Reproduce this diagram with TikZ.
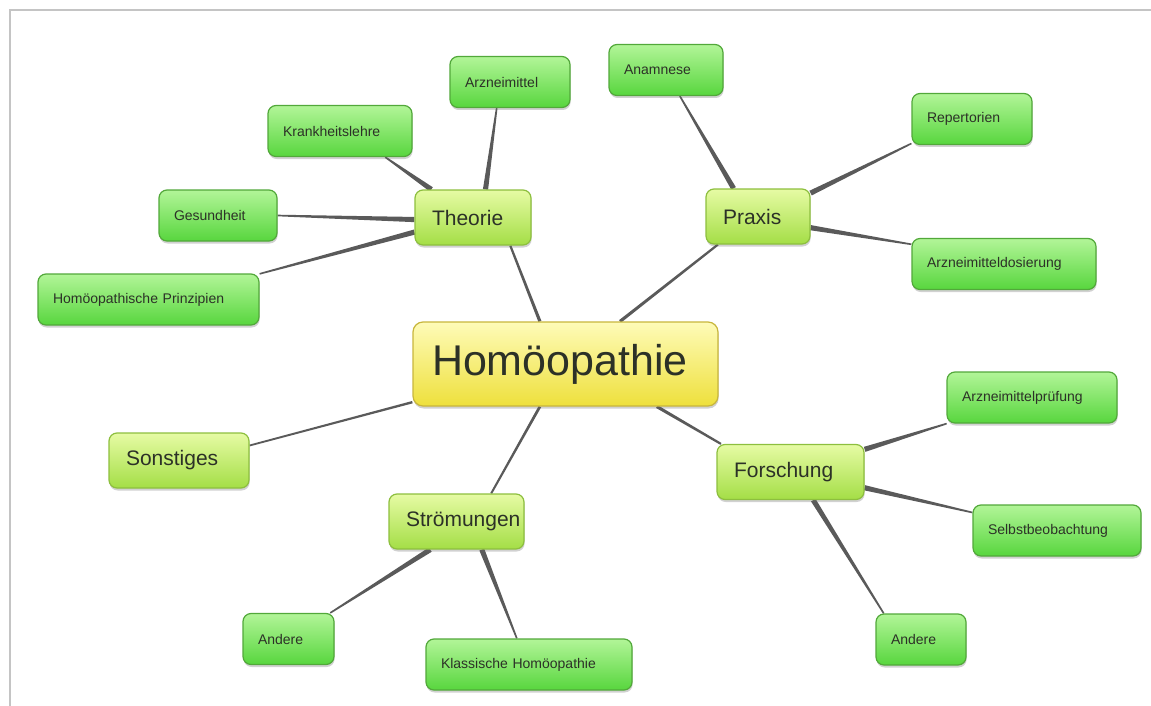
\documentclass[tikz,border=0pt]{standalone}
\usepackage{fontspec}
\setmainfont{Liberation Sans}
\usetikzlibrary{calc,shadows,backgrounds}

\definecolor{leaftop}{HTML}{B2F598}
\definecolor{leafbot}{HTML}{58D63E}
\definecolor{leafline}{HTML}{52A83A}
\definecolor{midtop}{HTML}{E6FBA4}
\definecolor{midbot}{HTML}{A4DE46}
\definecolor{midline}{HTML}{8DBF3E}
\definecolor{roottop}{HTML}{FEFBB8}
\definecolor{rootbot}{HTML}{EEE03C}
\definecolor{rootline}{HTML}{C8B63C}
\definecolor{linkgray}{HTML}{5A5A5A}
\definecolor{framegray}{HTML}{C4C4C4}
\definecolor{textgray}{HTML}{2C3127}

\tikzset{
  box/.style={rounded corners=8pt, draw, line width=1.2pt, text=textgray, align=left,
    drop shadow={shadow xshift=0.6pt, shadow yshift=-2.5pt, opacity=0.3, fill=black!60}},
  leaf/.style={box, draw=leafline, top color=leaftop, bottom color=leafbot,
    font=\fontsize{14}{16}\selectfont, text width=#1, inner xsep=15pt, minimum height=51pt},
  topic/.style={box, draw=midline, top color=midtop, bottom color=midbot,
    font=\fontsize{21}{24}\selectfont, text width=#1, inner xsep=17pt, minimum height=55pt},
  root/.style={box, rounded corners=10pt, draw=rootline, top color=roottop, bottom color=rootbot,
    font=\fontsize{43}{48}\selectfont, text width=#1, inner xsep=19pt, minimum height=84pt},
}

% tapered link: from anchor, to anchor, half width at start, half width at end
\newcommand{\branch}[4]{%
  \fill[linkgray] ($(#1)!#3!90:(#2)$) -- ($(#1)!#3!-90:(#2)$) -- ($(#2)!#4!90:(#1)$) -- ($(#2)!#4!-90:(#1)$) -- cycle;}

\begin{document}
\begin{tikzpicture}[x=1pt,y=-1pt]
	\useasboundingbox (0,0) rectangle (1151,706);
	
	%frame
	\draw[framegray, line width=1.5pt] (10,706) -- (10,10) -- (1151,10);
	
	% centre and topics
	\node[root=267pt] (homoo) at (565.5,364) {Homöopathie};
	\node[topic=82pt] (theorie) at (473,217.5) {Theorie};
	\node[topic=70pt] (praxis) at (758,216.5) {Praxis};
	\node[topic=113pt] (forschung) at (790.5,472) {Forschung};
	\node[topic=101pt] (stroemungen) at (456.5,521.5) {Strömungen};
	\node[topic=106pt] (sonstiges) at (179,460.5) {Sonstiges};
	
	% Theorie
	\node[leaf=90pt] (arznei) at (510,82) {Arzneimittel};
	\node[leaf=114pt] (krankheit) at (340,131) {Krankheitslehre};
	\node[leaf=88pt] (gesundheit) at (218,215.5) {Gesundheit};
	\node[leaf=191pt] (prinzipien) at (148.5,299.5) {Homöopathische Prinzipien};
	
	% Praxis
	\node[leaf=84pt] (anamnese) at (666,70) {Anamnese};
	\node[leaf=90pt] (repertorien) at (972,119) {Repertorien};
	\node[leaf=154pt] (dosierung) at (1004,264) {Arzneimitteldosierung};
	
	% Forschung
	\node[leaf=140pt] (pruefung) at (1032,397.5) {Arzneimittelprüfung};
	\node[leaf=138pt] (selbst) at (1057,530.5) {Selbstbeobachtung};
	\node[leaf=60pt] (andereF) at (921,639.5) {Andere};
	
	% Strömungen
	\node[leaf=61pt] (andereS) at (288.5,639) {Andere};
	\node[leaf=176pt] (klassisch) at (529,664.5) {Klassische Homöopathie};
	
	\begin{scope}[on background layer]
		\branch{homoo.121}{theorie.-37}{1.6pt}{1.1pt}
		\branch{homoo.38}{praxis.-145}{1.6pt}{1.1pt}
		\branch{homoo.-25}{forschung.158}{1.6pt}{1.1pt}
		\branch{homoo.-121}{stroemungen.39}{1.4pt}{1pt}
		\branch{homoo.-166}{sonstiges.12}{1.2pt}{0.9pt}
		
		\branch{theorie.66}{arznei.-117}{2.6pt}{0.8pt}
		\branch{theorie.146}{krankheit.-30}{2.6pt}{0.8pt}
		\branch{theorie.-178}{gesundheit.0}{2.6pt}{0.8pt}
		\branch{theorie.-166}{prinzipien.13}{2.6pt}{0.8pt}
		
		\branch{praxis.131}{anamnese.-62}{2.6pt}{0.8pt}
		\branch{praxis.24}{repertorien.-158}{2.6pt}{0.8pt}
		\branch{praxis.-12}{dosierung.168}{2.6pt}{0.8pt}
		
		\branch{forschung.17}{pruefung.-163}{2.6pt}{0.8pt}
		\branch{forschung.-12}{selbst.168}{2.6pt}{0.8pt}
		\branch{forschung.-51}{andereF.145}{2.6pt}{0.8pt}
		
		\branch{stroemungen.-133}{andereS.32}{2.6pt}{0.8pt}
		\branch{stroemungen.-48}{klassisch.115}{2.6pt}{0.8pt}
	\end{scope}
	
\end{tikzpicture}
\end{document}
